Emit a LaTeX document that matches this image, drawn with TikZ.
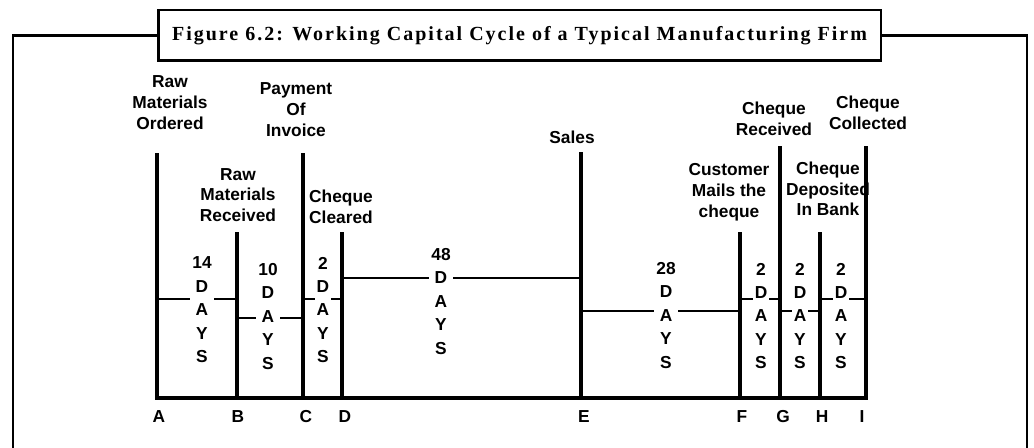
\documentclass[tikz,border=0pt]{standalone}
\usepackage{fontspec}
\setmainfont{Liberation Serif}
\newfontfamily\labfont{Liberation Sans}
\begin{document}
\begin{tikzpicture}[x=0.75pt,y=-0.75pt,
  lbl/.style={font=\labfont\bfseries\fontsize{13}{15.6}\selectfont, align=center, inner sep=0pt},
  stk/.style={font=\labfont\bfseries\fontsize{13}{17.6}\selectfont, align=center, fill=white, inner xsep=1.5pt, inner ysep=0pt},
  vline/.style={line width=2.6pt},
  hline/.style={line width=1.5pt},
  framel/.style={line width=1.9pt}]
\useasboundingbox (0,0) rectangle (1034,448);
% bottom and top coordinates of the vertical lines
\coordinate (A) at (157,398); \coordinate (At) at (157,153);
\coordinate (B) at (237,398); \coordinate (Bt) at (237,232);
\coordinate (C) at (303,398); \coordinate (Ct) at (303,153);
\coordinate (D) at (342,398); \coordinate (Dt) at (342,232);
\coordinate (E) at (581,398); \coordinate (Et) at (581,152);
\coordinate (F) at (740,398); \coordinate (Ft) at (740,232);
\coordinate (G) at (780,398); \coordinate (Gt) at (780,146);
\coordinate (H) at (820,398); \coordinate (Ht) at (820,232);
\coordinate (I) at (866,398); \coordinate (It) at (866,146);
% horizontal connectors
\draw[hline] (A |- 0,299) -- (B |- 0,299);
\draw[hline] (B |- 0,318) -- (C |- 0,318);
\draw[hline] (C |- 0,299) -- (D |- 0,299);
\draw[hline] (D |- 0,278) -- (E |- 0,278);
\draw[hline] (E |- 0,311) -- (F |- 0,311);
\draw[hline] (F |- 0,299) -- (G |- 0,299);
\draw[hline] (G |- 0,311) -- (H |- 0,311);
\draw[hline] (H |- 0,299) -- (I |- 0,299);
% day stacks
\node[stk] (s1) at (202,310) {14\\D\\A\\Y\\S};
\node[stk] (s2) at (268,316.5) {10\\D\\A\\Y\\S};
\node[stk] (s3) at (323,310) {2\\D\\A\\Y\\S};
\node[stk] (s4) at (441,301.5) {48\\D\\A\\Y\\S};
\node[stk] (s5) at (666,315.5) {28\\D\\A\\Y\\S};
\node[stk] (s6) at (761,316) {2\\D\\A\\Y\\S};
\node[stk] (s7) at (800,316) {2\\D\\A\\Y\\S};
\node[stk] (s8) at (841,316) {2\\D\\A\\Y\\S};
% top labels
\node[lbl] (tA) at (170,102.5) {Raw\\Materials\\Ordered};
\node[lbl] (tC) at (296,109.5) {Payment\\Of\\Invoice};
\node[lbl] (tB) at (238,195) {Raw\\Materials\\Received};
\node[lbl] (tD) at (341,207) {Cheque\\Cleared};
\node[lbl] (tE) at (572,137) {Sales};
\node[lbl] (tG) at (774,118.5) {Cheque\\Received};
\node[lbl] (tI) at (868,113) {Cheque\\Collected};
\node[lbl] (tF) at (729,192) {Customer\\Mails the\\cheque};
\node[lbl] (tH) at (828,189) {Cheque\\Deposited\\In Bank};
% vertical lines
\foreach \p in {A,B,C,D,E,F,G,H,I} {\draw[vline] (\p) -- (\p t);}
\draw[vline, line cap=rect] (A) -- (I);
% bottom letters
\node[lbl] (bA) at (159,417) {A};
\node[lbl] (bB) at (238,417) {B};
\node[lbl] (bC) at (306,417) {C};
\node[lbl] (bD) at (345,417) {D};
\node[lbl] (bE) at (584,417) {E};
\node[lbl] (bF) at (742,417) {F};
\node[lbl] (bG) at (783,417) {G};
\node[lbl] (bH) at (822,417) {H};
\node[lbl] (bI) at (862,417) {I};
% title and frame
\node[draw, line width=2pt, inner sep=0pt, minimum width=542pt, minimum height=38pt,
  font=\fontsize{15}{17}\selectfont\bfseries\addfontfeature{LetterSpace=10}] (title) at (519.5,35.5)
  {Figure 6.2: Working Capital Cycle of a Typical Manufacturing Firm};
\coordinate (fl) at (13,448);
\coordinate (fr) at (1027,448);
\draw[framel] (title.west) -| (fl);
\draw[framel] (title.east) -| (fr);
\end{tikzpicture}
\end{document}
